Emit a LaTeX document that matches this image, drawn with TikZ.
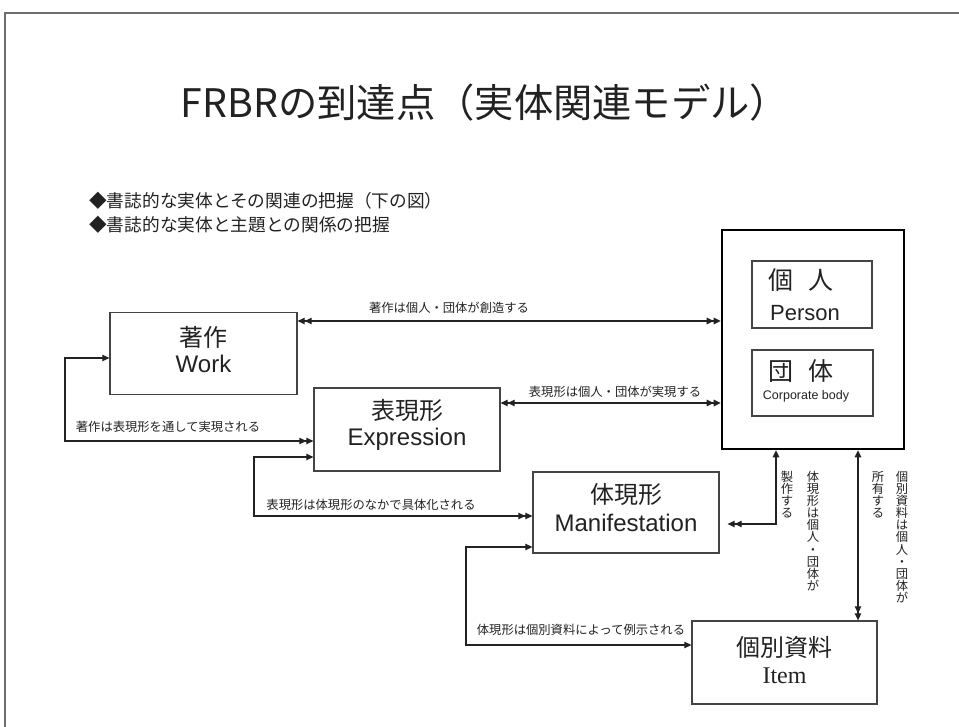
\documentclass[tikz,border=0pt]{standalone}
\usepackage{fontspec}
\setmainfont{Noto Sans CJK JP}
\newfontfamily\lib{Liberation Sans}
\newfontfamily\libserif{Liberation Serif}
\usetikzlibrary{arrows.meta}
\definecolor{ink}{HTML}{222222}
\definecolor{edge}{HTML}{444444}
\definecolor{frame}{HTML}{6E6E6E}
\begin{document}
\begin{tikzpicture}[x=1pt,y=-1pt,
  >={Triangle[length=7pt,width=6.5pt]},
  ent/.style={draw=edge, line width=1.3pt, inner sep=0pt},
  conn/.style={draw=ink, line width=1.2pt},
  jbig/.style={text=ink, inner sep=0pt, font=\fontsize{24}{28}\selectfont},
  ebig/.style={text=ink, inner sep=0pt, font=\lib\fontsize{24}{28}\selectfont},
  lab/.style={text=ink, inner sep=0pt, font=\fontsize{12.3}{13}\selectfont},
  vlab/.style={text=ink, inner sep=0pt, anchor=north, align=center, font=\fontsize{12.3}{12.1}\selectfont},
  bul/.style={text=ink, inner sep=0pt, anchor=west, font=\fontsize{17.7}{20}\selectfont}
]
\useasboundingbox (0,0) rectangle (959,727);
\fill[white] (0,0) rectangle (959,727);
% slide frame
\draw[frame, line width=2pt] (5,727) -- (5,13) -- (959,13);

% title and bullets
\node[text=ink, inner sep=0pt, font=\fontsize{39.3}{42}\selectfont] (title) at (485,103) {FRBRの到達点（実体関連モデル）};
\node[bul] (b1) at (89,201) {◆書誌的な実体とその関連の把握（下の図）};
\node[bul] (b2) at (89,225) {◆書誌的な実体と主題との関係の把握};

% entity boxes
\node[ent, minimum width=187pt, minimum height=82pt] (work) at (203.5,353.5) {};
\node[ent, minimum width=186pt, minimum height=83pt] (expr) at (407,429.5) {};
\node[ent, minimum width=186pt, minimum height=81pt] (manif) at (626,512.5) {};
\node[ent, minimum width=185pt, minimum height=83pt] (item) at (784.5,662.5) {};
\node[draw=black, line width=2.6pt, inner sep=0pt, minimum width=182pt, minimum height=219pt] (big) at (813,339.5) {};
\node[ent, minimum width=120pt, minimum height=67pt] (person) at (812,294.5) {};
\node[ent, minimum width=121pt, minimum height=66pt] (corp) at (812.5,383) {};

% box texts
\node[jbig] (workj) at (203.5,337) {著作};
\node[ebig] (worke) at (203.5,364) {Work};
\node[jbig] (exprj) at (407,410) {表現形};
\node[ebig] (expre) at (407,439) {Expression};
\node[jbig] (manifj) at (626,494) {体現形};
\node[ebig] (manife) at (626,523) {Manifestation};
\node[jbig] (itemj) at (784.5,647) {個別資料};
\node[text=ink, inner sep=0pt, font=\libserif\fontsize{24}{28}\selectfont] (iteme) at (784.5,676) {Item};
\node[text=ink, inner sep=0pt, font=\fontsize{25}{28}\selectfont] (personj) at (801,280) {個\hspace{15pt}人};
\node[text=ink, inner sep=0pt, font=\lib\fontsize{22}{26}\selectfont] (persone) at (805,313) {Person};
\node[text=ink, inner sep=0pt, font=\fontsize{25}{28}\selectfont] (corpj) at (801,371) {団\hspace{15pt}体};
\node[text=ink, inner sep=0pt, font=\lib\fontsize{12.5}{14}\selectfont] (corpe) at (806,396) {Corporate body};

% connectors
\draw[conn, <<->>] (work.east |- 0,321) -- (big.west |- 0,321);
\draw[conn, <<->>] (expr.east |- 0,403) -- (big.west |- 0,403);
\draw[conn, <->>] (work.west |- 0,358) -- (65,358) |- (expr.west |- 0,441);
\draw[conn, <->>] (expr.west |- 0,457) -- (254,457) |- (manif.west |- 0,516);
\draw[conn, <->] (manif.west |- 0,547) -- (466,547) |- (item.west |- 0,645);
\draw[conn, {Triangle[length=7pt,width=6.5pt,sep=8pt]Triangle[length=7pt,width=6.5pt]}->] (manif.east |- 0,524) -| (big.south -| 776,0);
\draw[conn, <->>] (big.south -| 858,0) -- (item.north -| 858,0);

% connector labels
\node[lab] (l1) at (449,308) {著作は個人・団体が創造する};
\node[lab] (l2) at (615,392) {表現形は個人・団体が実現する};
\node[lab] (l3) at (168,427) {著作は表現形を通して実現される};
\node[lab] (l4) at (371,505) {表現形は体現形のなかで具体化される};
\node[lab] (l5) at (581,630) {体現形は個別資料によって例示される};
\node[vlab] (v1) at (787,471) {製\\作\\す\\る};
\node[vlab] (v2) at (813,471) {体\\現\\形\\は\\個\\人\\・\\団\\体\\が};
\node[vlab] (v3) at (878,471) {所\\有\\す\\る};
\node[vlab] (v4) at (902,471) {個\\別\\資\\料\\は\\個\\人\\・\\団\\体\\が};
\end{tikzpicture}
\end{document}
